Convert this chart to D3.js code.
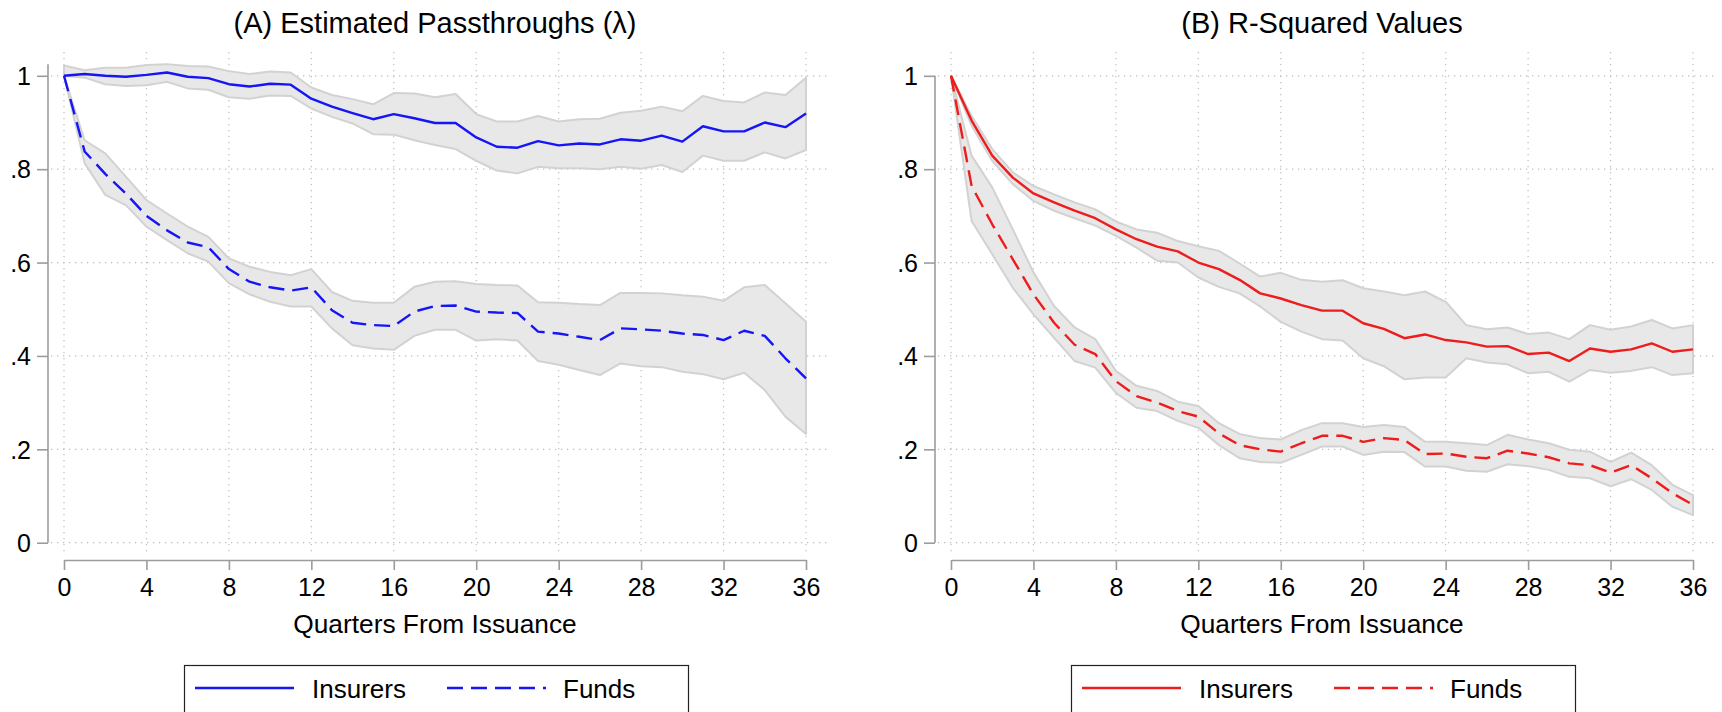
<!DOCTYPE html>
<html>
<head>
<meta charset="utf-8">
<script src="https://cdn.jsdelivr.net/npm/d3@7"></script>
<style>
  html, body { margin: 0; padding: 0; background: #fff; }
  svg { display: block; font-family: "Liberation Sans", Arial, Helvetica, sans-serif; }
</style>
</head>
<body>
<svg id="chart" width="1722" height="712"></svg>
<script>
// ---------- data ----------
const quarters = [0,1,2,3,4,5,6,7,8,9,10,11,12,13,14,15,16,17,18,19,20,21,22,23,24,25,26,27,28,29,30,31,32,33,34,35,36];
const xTicks = [0,4,8,12,16,20,24,28,32,36];
const yTicks = [0,0.2,0.4,0.6,0.8,1];
const yTickLabels = ["0",".2",".4",".6",".8","1"];
const panelTitles = ["(A) Estimated Passthroughs (\u03bb)", "(B) R-Squared Values"];
const xAxisTitle = "Quarters From Issuance";
const seriesNames = ["Insurers", "Funds"];

// Panel A: passthroughs
const lambdaInsurers   = [1.000,1.004,1.000,0.998,1.002,1.007,0.998,0.995,0.982,0.977,0.983,0.981,0.951,0.934,0.920,0.907,0.918,0.909,0.899,0.899,0.868,0.848,0.846,0.860,0.851,0.855,0.853,0.864,0.861,0.872,0.859,0.892,0.881,0.881,0.900,0.890,0.919];
const lambdaInsurersLo = [1.000,0.996,0.982,0.978,0.980,0.987,0.973,0.970,0.954,0.951,0.958,0.957,0.930,0.912,0.898,0.875,0.874,0.862,0.852,0.843,0.818,0.797,0.791,0.805,0.802,0.802,0.800,0.805,0.801,0.809,0.794,0.829,0.818,0.818,0.836,0.823,0.841];
const lambdaInsurersHi = [1.022,1.012,1.017,1.017,1.023,1.025,1.021,1.020,1.010,1.004,1.009,1.007,0.975,0.959,0.950,0.939,0.963,0.962,0.954,0.961,0.918,0.902,0.902,0.914,0.902,0.907,0.908,0.921,0.925,0.934,0.924,0.957,0.946,0.943,0.964,0.959,0.996];
const lambdaFunds      = [1.000,0.838,0.790,0.748,0.700,0.669,0.643,0.633,0.586,0.559,0.547,0.540,0.547,0.498,0.471,0.466,0.464,0.495,0.507,0.508,0.495,0.493,0.492,0.452,0.448,0.441,0.434,0.459,0.457,0.454,0.448,0.445,0.434,0.454,0.443,0.395,0.352];
const lambdaFundsLo    = [1.000,0.813,0.745,0.723,0.677,0.648,0.620,0.602,0.556,0.532,0.516,0.506,0.506,0.459,0.423,0.416,0.413,0.443,0.456,0.456,0.433,0.436,0.433,0.389,0.381,0.370,0.359,0.384,0.378,0.376,0.366,0.361,0.350,0.364,0.327,0.270,0.233];
const lambdaFundsHi    = [1.000,0.862,0.834,0.784,0.734,0.705,0.677,0.655,0.609,0.591,0.580,0.573,0.586,0.537,0.518,0.514,0.514,0.548,0.559,0.560,0.554,0.552,0.551,0.515,0.514,0.511,0.509,0.535,0.535,0.534,0.530,0.527,0.518,0.547,0.552,0.513,0.473];

// Panel B: R-squared
const r2Insurers   = [1.000,0.904,0.829,0.782,0.748,0.729,0.711,0.695,0.671,0.650,0.634,0.624,0.600,0.586,0.563,0.534,0.523,0.509,0.497,0.497,0.470,0.458,0.438,0.446,0.434,0.429,0.420,0.421,0.404,0.407,0.389,0.416,0.409,0.414,0.427,0.409,0.414];
const r2InsurersLo = [1.000,0.893,0.818,0.768,0.732,0.711,0.695,0.679,0.657,0.632,0.604,0.600,0.568,0.548,0.534,0.506,0.473,0.452,0.436,0.433,0.395,0.378,0.350,0.354,0.354,0.395,0.386,0.382,0.363,0.366,0.345,0.370,0.364,0.368,0.376,0.359,0.363];
const r2InsurersHi = [1.000,0.914,0.843,0.793,0.764,0.746,0.729,0.714,0.688,0.671,0.664,0.646,0.635,0.625,0.598,0.570,0.578,0.563,0.559,0.562,0.545,0.538,0.530,0.538,0.516,0.466,0.457,0.461,0.447,0.450,0.436,0.466,0.456,0.463,0.477,0.459,0.466];
const r2Funds      = [1.000,0.764,0.682,0.607,0.532,0.471,0.424,0.404,0.346,0.314,0.300,0.282,0.270,0.234,0.209,0.200,0.195,0.213,0.229,0.229,0.216,0.224,0.220,0.190,0.191,0.184,0.181,0.197,0.191,0.183,0.170,0.166,0.150,0.166,0.138,0.106,0.081];
const r2FundsLo    = [1.000,0.689,0.618,0.546,0.489,0.439,0.389,0.375,0.321,0.289,0.282,0.261,0.246,0.209,0.181,0.173,0.171,0.188,0.206,0.206,0.188,0.195,0.194,0.163,0.163,0.154,0.152,0.168,0.164,0.156,0.141,0.138,0.121,0.136,0.113,0.077,0.059];
const r2FundsHi    = [1.000,0.829,0.761,0.671,0.579,0.507,0.461,0.436,0.368,0.336,0.325,0.302,0.293,0.256,0.233,0.224,0.221,0.241,0.256,0.256,0.248,0.252,0.248,0.216,0.216,0.213,0.209,0.231,0.221,0.213,0.199,0.195,0.173,0.193,0.166,0.124,0.102];

const panels = [
  { title: panelTitles[0], color: "#1515f5",
    ins: lambdaInsurers, insLo: lambdaInsurersLo, insHi: lambdaInsurersHi,
    fund: lambdaFunds, fundLo: lambdaFundsLo, fundHi: lambdaFundsHi },
  { title: panelTitles[1], color: "#ee1c1c",
    ins: r2Insurers, insLo: r2InsurersLo, insHi: r2InsurersHi,
    fund: r2Funds, fundLo: r2FundsLo, fundHi: r2FundsHi }
];

// ---------- drawing ----------
const svg = d3.select("#chart");
const panelOffset = 887;
const font = "'Liberation Sans', Arial, Helvetica, sans-serif";
const dashPat = "16,8";
const lw = 2.4;

panels.forEach((p, i) => {
  const ox = i * panelOffset;
  const g = svg.append("g").attr("transform", `translate(${ox},0)`);
  const x = d3.scaleLinear().domain([0, 36]).range([64, 806]);
  const y = d3.scaleLinear().domain([0, 1]).range([542.7, 75.8]);

  // grid
  const grid = g.append("g");
  grid.selectAll("line.h").data(yTicks).join("line")
    .attr("x1", 51).attr("x2", 827)
    .attr("y1", d => y(d)).attr("y2", d => y(d))
    .attr("stroke", "#bdbdbd").attr("stroke-width", 1.2)
    .attr("stroke-dasharray", "1.3,4.7");
  grid.selectAll("line.v").data(xTicks).join("line")
    .attr("x1", d => x(d)).attr("x2", d => x(d))
    .attr("y1", 52).attr("y2", 554)
    .attr("stroke", "#bdbdbd").attr("stroke-width", 1.2)
    .attr("stroke-dasharray", "1.3,4.7");

  const area = (lo, hi) => d3.area()
    .x((d, k) => x(quarters[k]))
    .y0((d, k) => y(lo[k]))
    .y1((d, k) => y(hi[k]))(quarters);
  const line = (vals) => d3.line()
    .x((d, k) => x(quarters[k]))
    .y((d, k) => y(vals[k]))(quarters);

  // CI bands
  [[p.insLo, p.insHi], [p.fundLo, p.fundHi]].forEach(([lo, hi]) => {
    g.append("path").attr("d", area(lo, hi))
      .attr("fill", "#e8e8e8").attr("stroke", "#d2d2d2")
      .attr("stroke-width", 2).attr("stroke-linejoin", "round");
  });

  // lines
  g.append("path").attr("d", line(p.ins))
    .attr("fill", "none").attr("stroke", p.color).attr("stroke-width", lw)
    .attr("stroke-linejoin", "round");
  g.append("path").attr("d", line(p.fund))
    .attr("fill", "none").attr("stroke", p.color).attr("stroke-width", lw)
    .attr("stroke-dasharray", dashPat).attr("stroke-linejoin", "round");

  // y axis
  const yMax = Math.max(1, d3.max(p.insHi), d3.max(p.fundHi));
  const yAx = g.append("g").attr("transform", "translate(48,0)")
    .call(d3.axisLeft(y).tickValues(yTicks)
      .tickFormat((d, k) => yTickLabels[k]).tickSize(11).tickPadding(6).tickSizeOuter(0));
  yAx.select(".domain").remove();
  yAx.append("line").attr("x1", 0).attr("x2", 0).attr("y1", y(yMax)).attr("y2", y(0))
    .attr("stroke", "#9c9c9c").attr("stroke-width", 1.6);
  yAx.selectAll(".tick line").attr("stroke", "#9c9c9c").attr("stroke-width", 1.6);
  yAx.selectAll(".tick text").attr("font-family", font).attr("font-size", 25)
    .attr("fill", "#000").attr("dy", "0.35em");

  // x axis
  const xAx = g.append("g").attr("transform", "translate(0,560)")
    .call(d3.axisBottom(x).tickValues(xTicks).tickSize(10).tickPadding(8).tickSizeOuter(0));
  xAx.select(".domain").attr("stroke", "#9c9c9c").attr("stroke-width", 1.6);
  xAx.selectAll(".tick line").attr("stroke", "#9c9c9c").attr("stroke-width", 1.6);
  xAx.selectAll(".tick text").attr("font-family", font).attr("font-size", 25)
    .attr("fill", "#000").attr("dy", "0.71em");

  // titles
  g.append("text").attr("x", 435).attr("y", 33).attr("text-anchor", "middle")
    .attr("font-family", font).attr("font-size", 29).attr("fill", "#000").text(p.title);
  g.append("text").attr("x", 435).attr("y", 633).attr("text-anchor", "middle")
    .attr("font-family", font).attr("font-size", 26.3).attr("fill", "#000").text(xAxisTitle);

  // legend
  const lg = g.append("g");
  lg.append("rect").attr("x", 184.5).attr("y", 665.5).attr("width", 504).attr("height", 70)
    .attr("fill", "#fff").attr("stroke", "#222").attr("stroke-width", 1.2);
  lg.append("line").attr("x1", 195).attr("x2", 294).attr("y1", 688).attr("y2", 688)
    .attr("stroke", p.color).attr("stroke-width", lw);
  lg.append("text").attr("x", 312).attr("y", 697.5).attr("font-family", font)
    .attr("font-size", 26).attr("fill", "#000").text(seriesNames[0]);
  lg.append("line").attr("x1", 447).attr("x2", 546).attr("y1", 688).attr("y2", 688)
    .attr("stroke", p.color).attr("stroke-width", lw).attr("stroke-dasharray", dashPat);
  lg.append("text").attr("x", 563).attr("y", 697.5).attr("font-family", font)
    .attr("font-size", 26).attr("fill", "#000").text(seriesNames[1]);
});
</script>
</body>
</html>
